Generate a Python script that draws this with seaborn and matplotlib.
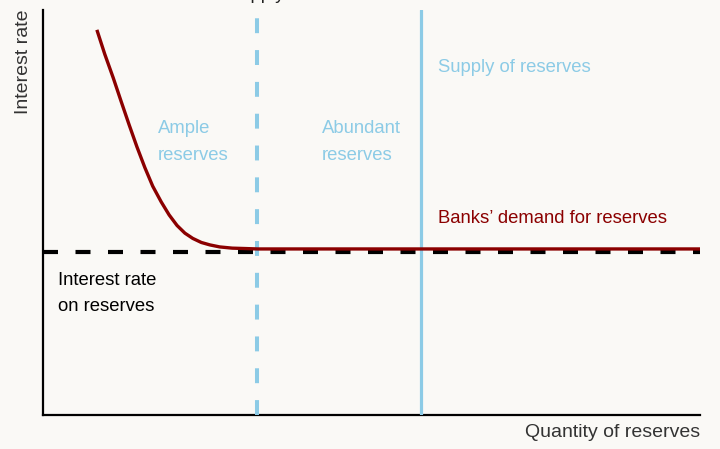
import matplotlib
matplotlib.use("Agg")
import matplotlib.pyplot as plt
import seaborn as sns
import pandas as pd

# Banks' demand curve (quantity, rate), axis range 0-100
demand_qty = [8.2, 9.4, 10.7, 11.9, 13.1, 14.3, 15.5, 16.7, 18.0, 19.2,
              20.4, 21.6, 22.8, 24.1, 25.4, 26.9, 28.8, 30.8, 32.7, 100.0]
demand_rate = [95.1, 89.1, 83.2, 77.4, 71.7, 66.2, 61.1, 56.5, 52.6, 49.4,
               46.8, 44.9, 43.6, 42.6, 42.0, 41.5, 41.2, 41.1, 41.0, 41.0]

rate_on_reserves = 40.2
ample_boundary = 32.6     # dashed blue line
reserve_supply = 57.5     # solid blue line

RED = "#8b0000"
BLUE = "#8ccbe6"
BG = "#faf9f6"

sns.set_theme(style="white")
plt.rcParams["font.family"] = ["Liberation Sans", "DejaVu Sans"]

fig = plt.figure(figsize=(7.2, 4.49), dpi=100, facecolor=BG)
ax = fig.add_axes([43 / 720, 34 / 449, 657 / 720, 405 / 449])
ax.set_facecolor(BG)

df = pd.DataFrame({"qty": demand_qty, "rate": demand_rate})

# policy rate floor
ax.axhline(rate_on_reserves, color="black", lw=3, dashes=(3.6, 4.2), zorder=2)
# reserve regimes
ax.axvline(ample_boundary, color=BLUE, lw=2.9, dashes=(3.7, 4.2), zorder=3)
ax.axvline(reserve_supply, color=BLUE, lw=2.3, zorder=3)
sns.lineplot(data=df, x="qty", y="rate", sort=False, color=RED, lw=2.4,
             ax=ax, zorder=4, solid_joinstyle="round", solid_capstyle="butt")

ax.set_xlim(0, 100)
ax.set_ylim(0, 100)
ax.set_xticks([])
ax.set_yticks([])
sns.despine(ax=ax)
for side in ["left", "bottom"]:
    ax.spines[side].set_color("black")
    ax.spines[side].set_linewidth(1.6)

ax.set_xlabel("Quantity of reserves", loc="right", fontsize=14, color="#333333")
ax.xaxis.set_label_coords(1.0, -0.022)
ax.set_ylabel("Interest rate", loc="top", fontsize=14, color="#333333")
ax.yaxis.set_label_coords(-0.017, 1.0)

fs = 13.3
ax.text(60.1, 85.9, "Supply of reserves", color=BLUE, fontsize=fs, va="center")
ax.text(17.5, 67.4, "Ample\nreserves", color=BLUE, fontsize=fs, va="center",
        linespacing=1.7)
ax.text(42.5, 67.4, "Abundant\nreserves", color=BLUE, fontsize=fs, va="center",
        linespacing=1.7)
ax.text(60.1, 48.4, "Banks\u2019 demand for reserves", color=RED, fontsize=fs,
        va="center")
ax.text(2.3, 30.1, "Interest rate\non reserves", color="black", fontsize=fs,
        va="center", linespacing=1.7)

# title cut off by the top edge in the original
fig.text(228 / 720, 1.003, "Supply", fontsize=fs, color="#222222", va="baseline")

fig.savefig("out.png", dpi=100, facecolor=BG)
